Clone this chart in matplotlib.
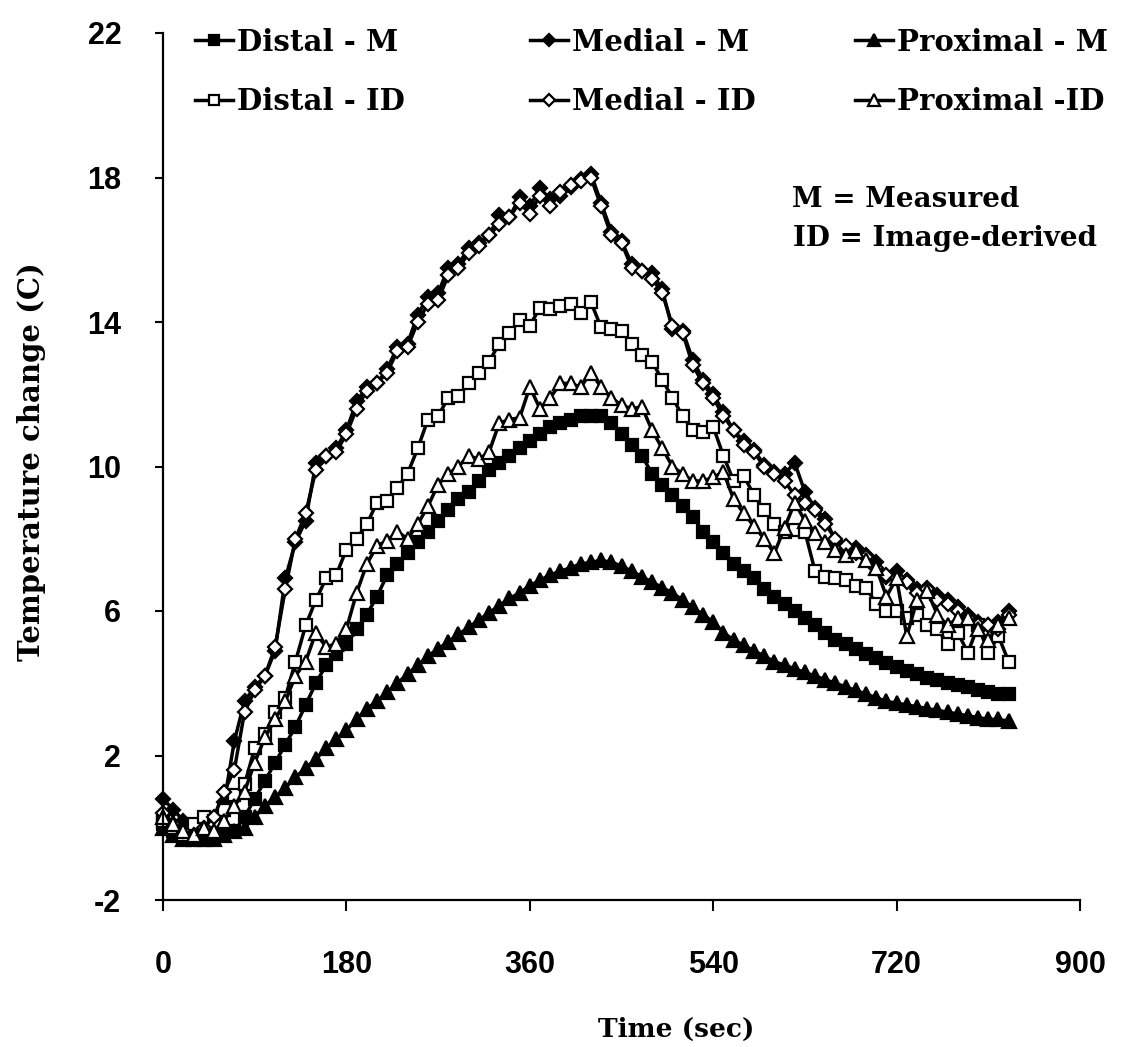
import matplotlib
matplotlib.use("Agg")
import matplotlib.pyplot as plt
from matplotlib.font_manager import FontProperties

# ---------------- data ----------------
time_sec = [0, 10, 20, 30, 40, 50, 60, 70, 80, 90,
            100, 110, 120, 130, 140, 150, 160, 170, 180, 190,
            200, 210, 220, 230, 240, 250, 260, 270, 280, 290,
            300, 310, 320, 330, 340, 350, 360, 370, 380, 390,
            400, 410, 420, 430, 440, 450, 460, 470, 480, 490,
            500, 510, 520, 530, 540, 550, 560, 570, 580, 590,
            600, 610, 620, 630, 640, 650, 660, 670, 680, 690,
            700, 710, 720, 730, 740, 750, 760, 770, 780, 790,
            800, 810, 820, 830]

distal_m = [0.1, -0.1, -0.3, -0.3, -0.2, -0.3, -0.2, -0.1, 0.3, 0.8,
            1.3, 1.8, 2.3, 2.8, 3.4, 4.0, 4.5, 4.8, 5.1, 5.5,
            5.9, 6.4, 7.0, 7.3, 7.6, 7.9, 8.2, 8.5, 8.8, 9.1,
            9.3, 9.6, 9.9, 10.1, 10.3, 10.5, 10.7, 10.9, 11.1, 11.2,
            11.3, 11.4, 11.4, 11.4, 11.2, 10.9, 10.6, 10.3, 9.8, 9.5,
            9.2, 8.9, 8.6, 8.2, 7.9, 7.6, 7.3, 7.1, 6.9, 6.6,
            6.4, 6.2, 6.0, 5.8, 5.6, 5.4, 5.2, 5.1, 4.95, 4.8,
            4.7, 4.55, 4.45, 4.35, 4.25, 4.15, 4.1, 4.0, 3.95, 3.9,
            3.8, 3.75, 3.7, 3.7]

medial_m = [0.8, 0.5, 0.2, -0.1, -0.2, 0.1, 0.7, 2.4, 3.5, 3.9,
            4.2, 4.9, 6.9, 7.9, 8.5, 10.1, 10.3, 10.5, 11.0, 11.8,
            12.2, 12.3, 12.7, 13.3, 13.4, 14.2, 14.7, 14.8, 15.5, 15.6,
            16.05, 16.2, 16.4, 16.95, 16.9, 17.45, 17.2, 17.7, 17.4, 17.5,
            17.75, 17.95, 18.1, 17.3, 16.5, 16.25, 15.6, 15.4, 15.35, 14.9,
            13.8, 13.75, 12.95, 12.4, 12.0, 11.5, 11.0, 10.7, 10.45, 10.05,
            9.85, 9.8, 10.1, 9.3, 8.85, 8.55, 7.95, 7.7, 7.75, 7.55,
            7.35, 6.95, 7.1, 6.85, 6.6, 6.65, 6.45, 6.3, 6.1, 5.9,
            5.7, 5.6, 5.7, 6.0]

proximal_m = [0.0, -0.2, -0.3, -0.3, -0.3, -0.3, -0.2, -0.1, 0.0, 0.3,
              0.6, 0.85, 1.1, 1.4, 1.65, 1.9, 2.2, 2.45, 2.7, 3.0,
              3.3, 3.5, 3.75, 4.0, 4.25, 4.5, 4.75, 4.95, 5.15, 5.35,
              5.55, 5.75, 5.95, 6.15, 6.35, 6.5, 6.7, 6.85, 7.0, 7.1,
              7.2, 7.3, 7.35, 7.4, 7.35, 7.25, 7.1, 6.95, 6.8, 6.65,
              6.5, 6.3, 6.1, 5.9, 5.7, 5.4, 5.2, 5.05, 4.9, 4.75,
              4.6, 4.5, 4.4, 4.3, 4.2, 4.1, 4.0, 3.9, 3.8, 3.7,
              3.6, 3.5, 3.45, 3.4, 3.35, 3.3, 3.25, 3.2, 3.15, 3.1,
              3.05, 3.0, 3.0, 2.95]

distal_id = [0.2, 0.0, -0.2, 0.1, 0.3, 0.2, 0.5, 0.9, 1.2, 2.2,
             2.6, 3.2, 3.6, 4.6, 5.6, 6.3, 6.9, 7.0, 7.7, 8.0,
             8.4, 9.0, 9.05, 9.4, 9.8, 10.5, 11.3, 11.4, 11.9, 11.95,
             12.3, 12.6, 12.9, 13.4, 13.7, 14.05, 13.9, 14.4, 14.35, 14.45,
             14.5, 14.25, 14.55, 13.85, 13.8, 13.75, 13.4, 13.1, 12.9, 12.4,
             11.9, 11.4, 11.0, 10.95, 11.1, 10.3, 9.6, 9.75, 9.2, 8.8,
             8.4, 8.2, 8.25, 8.2, 7.1, 6.95, 6.9, 6.85, 6.7, 6.65,
             6.2, 6.0, 6.0, 5.8, 5.9, 5.6, 5.5, 5.1, 5.4, 4.85,
             5.6, 4.85, 5.3, 4.6]

medial_id = [0.4, 0.1, -0.1, -0.2, 0.0, 0.3, 1.0, 1.6, 3.2, 3.8,
             4.2, 5.0, 6.6, 8.0, 8.7, 9.9, 10.3, 10.4, 10.9, 11.6,
             12.1, 12.3, 12.6, 13.2, 13.3, 14.0, 14.5, 14.6, 15.3, 15.5,
             15.9, 16.1, 16.4, 16.7, 16.9, 17.3, 17.0, 17.5, 17.2, 17.6,
             17.8, 17.9, 18.0, 17.2, 16.4, 16.2, 15.5, 15.4, 15.2, 14.8,
             13.9, 13.7, 12.8, 12.3, 11.9, 11.4, 11.0, 10.6, 10.4, 10.0,
             9.8, 9.6, 9.2, 9.0, 8.8, 8.4, 8.0, 7.8, 7.6, 7.5,
             7.2, 7.0, 6.9, 6.8, 6.5, 6.6, 6.3, 6.2, 6.0, 5.8,
             5.6, 5.6, 5.5, 5.9]

proximal_id = [0.3, 0.1, -0.1, -0.2, 0.0, -0.1, 0.2, 0.6, 1.0, 1.8,
               2.5, 3.0, 3.5, 4.2, 4.6, 5.4, 5.0, 5.1, 5.5, 6.5,
               7.3, 7.8, 7.95, 8.2, 8.0, 8.4, 8.9, 9.5, 9.8, 10.0,
               10.3, 10.2, 10.4, 11.2, 11.3, 11.35, 12.2, 11.6, 11.9, 12.3,
               12.3, 12.2, 12.6, 12.2, 11.9, 11.7, 11.6, 11.65, 11.0, 10.5,
               10.0, 9.8, 9.6, 9.6, 9.7, 9.85, 9.1, 8.7, 8.35, 8.0,
               7.6, 8.3, 9.0, 8.5, 8.15, 7.9, 7.7, 7.55, 7.65, 7.4,
               7.2, 6.4, 6.9, 5.3, 6.3, 6.55, 5.9, 5.6, 5.8, 5.8,
               5.5, 5.2, 5.6, 5.8]

series_labels = ["Distal - M", "Medial - M", "Proximal - M",
                 "Distal - ID", "Medial - ID", "Proximal -ID"]
x_ticks = [0, 180, 360, 540, 720, 900]
y_ticks = [-2, 2, 6, 10, 14, 18, 22]

# ---------------- figure ----------------
W, H = 1126, 1047
fig = plt.figure(figsize=(W / 100, H / 100), dpi=100)
fig.patch.set_facecolor("white")

L, R, T, B = 163, 1080, 33, 900
ax = fig.add_axes([L / W, 1 - B / H, (R - L) / W, (B - T) / H])
ax.set_xlim(0, 900)
ax.set_ylim(-2, 22)

legend_font = FontProperties(family=["DejaVu Serif"], weight="bold", size=21)
note_font = FontProperties(family=["DejaVu Serif"], weight="bold", size=20)
ylab_font = FontProperties(family=["DejaVu Serif"], weight="bold", size=21)
xlab_font = FontProperties(family=["DejaVu Serif"], weight="bold", size=19)
tick_font = FontProperties(family=["Liberation Sans", "DejaVu Sans"], weight="bold", size=22)

styles = [
    dict(marker="s", ms=8.5, mfc="black"),
    dict(marker="D", ms=7.0, mfc="black"),
    dict(marker="^", ms=9.5, mfc="black"),
    dict(marker="s", ms=8.5, mfc="white"),
    dict(marker="D", ms=7.0, mfc="white"),
    dict(marker="^", ms=9.5, mfc="white"),
]
data = [distal_m, medial_m, proximal_m, distal_id, medial_id, proximal_id]
handles = []
for vals, st, lab in zip(data, styles, series_labels):
    ln, = ax.plot(time_sec, vals, color="black", lw=2.5,
                  marker=st["marker"], ms=st["ms"], mfc=st["mfc"],
                  mec="black", mew=1.6, label=lab, clip_on=False)
    handles.append(ln)

for s in ["top", "right"]:
    ax.spines[s].set_visible(False)
for s in ["left", "bottom"]:
    ax.spines[s].set_linewidth(1.6)

ax.set_xticks(x_ticks)
ax.set_yticks(y_ticks)
ax.set_xticklabels([str(v) for v in x_ticks])
ax.set_yticklabels([str(v) for v in y_ticks])
ax.tick_params(axis="y", direction="out", length=6, width=1.5, pad=24)
ax.tick_params(axis="x", direction="out", length=8, width=1.5, pad=28)
for lbl in ax.get_xticklabels() + ax.get_yticklabels():
    lbl.set_fontproperties(tick_font)

# legend: three columns, two rows
col_x = [195, 530, 855]
for i, xs in enumerate(col_x):
    fig.legend(handles=[handles[i], handles[i + 3]],
               labels=[series_labels[i], series_labels[i + 3]],
               loc="center left", bbox_to_anchor=(xs / W, 1 - 72 / H),
               frameon=False, prop=legend_font, handlelength=1.3,
               handletextpad=0.15, borderpad=0, borderaxespad=0,
               labelspacing=1.05, numpoints=1, markerscale=0.85)

fig.text(792 / W, 1 - 207 / H, "M = Measured", fontproperties=note_font,
         ha="left", va="baseline")
fig.text(793 / W, 1 - 246 / H, "ID = Image-derived", fontproperties=note_font,
         ha="left", va="baseline")

fig.text(32 / W, 1 - 462 / H, "Temperature change (C)", fontproperties=ylab_font,
         rotation=90, ha="center", va="center")
fig.text(598 / W, 1 - 1037 / H, "Time (sec)", fontproperties=xlab_font,
         ha="left", va="baseline")

fig.savefig("out.png", dpi=100, facecolor="white")
